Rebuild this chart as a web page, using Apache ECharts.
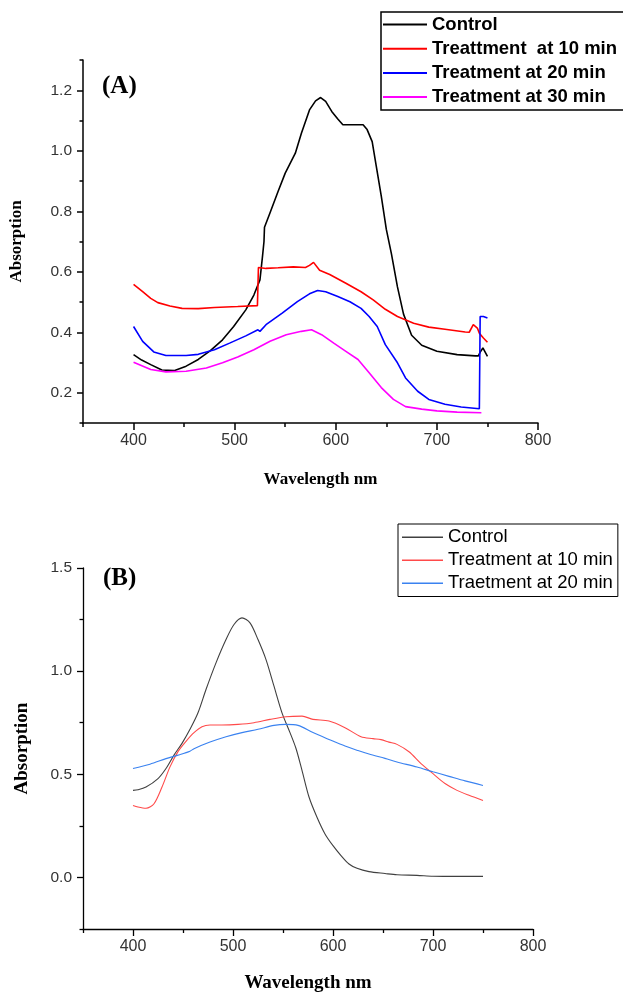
<!DOCTYPE html>
<html>
<head>
<meta charset="utf-8">
<script src="https://cdn.jsdelivr.net/npm/echarts@6.0.0/dist/echarts.min.js"></script>
<style>
html,body{margin:0;padding:0;background:#fff;}
#chart{width:623px;height:995px;}
</style>
</head>
<body>
<div id="chart"></div>
<script>
// ---------- Tick labels ----------
const xMajorTicks = [400, 500, 600, 700, 800];
const xMinorTicks = [350, 450, 550, 650, 750];
const yMajorA = [0.2, 0.4, 0.6, 0.8, 1.0, 1.2];
const yMinorA = [0.1, 0.3, 0.5, 0.7, 0.9, 1.1, 1.3];
const yMajorB = [0.0, 0.5, 1.0, 1.5];
const yMinorB = [-0.25, 0.25, 0.75, 1.25];

// ---------- Chart A data ----------
const namesA = ['Control', 'Treattment  at 10 min', 'Treatment at 20 min', 'Treatment at 30 min'];
const aControlX = [400, 408, 417, 428, 440, 452, 464, 476, 488, 499, 511, 519, 525, 527.5, 529, 529.5, 535, 543, 550, 560, 566, 574, 580, 585, 590, 596, 602, 607, 617, 627, 631, 636, 640, 645, 650, 655, 661, 667, 675, 685, 700, 720, 738, 741, 743, 745.5, 750];
const aControlY = [0.326, 0.308, 0.293, 0.275, 0.273, 0.288, 0.310, 0.339, 0.375, 0.419, 0.474, 0.523, 0.573, 0.650, 0.700, 0.747, 0.795, 0.866, 0.926, 0.992, 1.058, 1.135, 1.165, 1.176, 1.163, 1.130, 1.105, 1.086, 1.086, 1.086, 1.070, 1.030, 0.950, 0.850, 0.740, 0.660, 0.550, 0.460, 0.390, 0.357, 0.337, 0.326, 0.322, 0.322, 0.335, 0.348, 0.320];
const a10X = [400, 409, 417, 424, 436, 448, 464, 480, 503, 522.5, 523.5, 531, 543, 558, 570, 574, 578, 584, 594, 610, 625, 637, 649, 661, 677, 692, 708, 728, 732, 736, 740, 742, 746, 750];
const a10Y = [0.558, 0.534, 0.512, 0.498, 0.487, 0.479, 0.478, 0.482, 0.485, 0.488, 0.614, 0.611, 0.613, 0.616, 0.614, 0.621, 0.631, 0.605, 0.591, 0.562, 0.534, 0.507, 0.476, 0.452, 0.430, 0.417, 0.410, 0.401, 0.400, 0.425, 0.414, 0.397, 0.381, 0.367];
const a20X = [400, 409, 420, 432, 452, 464, 480, 495, 511, 523, 525, 531, 547, 562, 574, 582, 590, 602, 614, 625, 633, 641, 649, 661, 669, 681, 692, 708, 724, 742, 742.8, 746, 750];
const a20Y = [0.419, 0.370, 0.335, 0.323, 0.323, 0.327, 0.342, 0.364, 0.388, 0.408, 0.403, 0.425, 0.463, 0.501, 0.527, 0.538, 0.534, 0.518, 0.501, 0.479, 0.452, 0.419, 0.359, 0.299, 0.249, 0.205, 0.178, 0.162, 0.153, 0.147, 0.452, 0.452, 0.447];
const a30X = [400, 417, 432, 452, 472, 488, 503, 519, 535, 551, 566, 576, 586, 598, 610, 622, 633, 645, 657, 669, 685, 700, 720, 744];
const a30Y = [0.301, 0.277, 0.269, 0.271, 0.282, 0.299, 0.318, 0.342, 0.370, 0.392, 0.403, 0.408, 0.392, 0.364, 0.337, 0.310, 0.266, 0.217, 0.178, 0.154, 0.146, 0.140, 0.136, 0.134];

// ---------- Chart B data ----------
const namesB = ['Control', 'Treatment at 10 min', 'Traetment at 20 min'];
const bControlX = [400, 405, 413, 425, 433, 441, 449, 457, 465, 473, 483, 493, 501, 509, 517, 525, 533, 541, 549, 557, 563, 569, 576, 584, 592, 600, 608, 616, 624, 636, 652, 664, 684, 700, 724, 750];
const bControlY = [0.422, 0.425, 0.438, 0.479, 0.528, 0.593, 0.650, 0.718, 0.798, 0.911, 1.040, 1.153, 1.226, 1.258, 1.234, 1.153, 1.056, 0.927, 0.798, 0.702, 0.625, 0.519, 0.390, 0.292, 0.211, 0.154, 0.106, 0.065, 0.044, 0.028, 0.019, 0.013, 0.010, 0.006, 0.005, 0.005];
const b10X = [400, 405, 413, 421, 429, 437, 445, 453, 461, 469, 477, 489, 505, 521, 537, 553, 569, 580, 596, 612, 628, 640, 648, 656, 664, 676, 688, 700, 712, 724, 736, 750];
const b10Y = [0.349, 0.341, 0.335, 0.357, 0.438, 0.536, 0.610, 0.660, 0.702, 0.731, 0.739, 0.739, 0.742, 0.750, 0.766, 0.779, 0.782, 0.766, 0.758, 0.726, 0.682, 0.673, 0.668, 0.656, 0.645, 0.609, 0.552, 0.503, 0.455, 0.422, 0.398, 0.373];
const b20X = [400, 417, 433, 445, 457, 461, 477, 493, 509, 525, 541, 553, 565, 580, 596, 612, 625, 636, 652, 664, 684, 700, 716, 732, 750];
const b20Y = [0.528, 0.549, 0.576, 0.593, 0.612, 0.624, 0.656, 0.682, 0.702, 0.718, 0.737, 0.742, 0.737, 0.702, 0.669, 0.637, 0.615, 0.598, 0.577, 0.560, 0.535, 0.512, 0.490, 0.468, 0.446];

function zip(xs, ys) { return xs.map((x, i) => [x, ys[i]]); }

const SANS = '"Liberation Sans", Arial, sans-serif';
const SERIF = '"Liberation Serif", "Times New Roman", serif';

function mainX(grid, name, gap, lw, padLeft) {
  return {
    gridIndex: grid, type: 'value', min: 350, max: 800, position: 'bottom',
    axisLine: { show: true, onZero: false, lineStyle: { color: '#000', width: lw } },
    axisTick: { show: true, customValues: xMajorTicks, length: 7, lineStyle: { color: '#000', width: lw } },
    axisLabel: { customValues: xMajorTicks, margin: 10, fontSize: 16, color: '#333', fontFamily: SANS },
    splitLine: { show: false },
    name: name, nameLocation: 'middle', nameGap: gap,
    nameTextStyle: { fontFamily: SERIF, fontWeight: 'bold', fontSize: grid === 0 ? 17 : 19, color: '#000', padding: [0, 0, 0, padLeft] }
  };
}
function minorX(grid, lw) {
  return {
    gridIndex: grid, type: 'value', min: 350, max: 800, position: 'bottom',
    axisLine: { show: false, onZero: false },
    axisTick: { show: true, customValues: xMinorTicks, length: 4, lineStyle: { color: '#000', width: lw } },
    axisLabel: { show: false }, splitLine: { show: false }
  };
}
function mainY(grid, min, max, majors, name, gap, lw, fs) {
  return {
    gridIndex: grid, type: 'value', min: min, max: max, position: 'left',
    axisLine: { show: true, onZero: false, lineStyle: { color: '#000', width: lw } },
    axisTick: { show: true, customValues: majors, length: 6, lineStyle: { color: '#000', width: lw } },
    axisLabel: { customValues: majors, margin: 11, fontSize: 15.5, color: '#333', fontFamily: SANS,
      formatter: v => Number(v).toFixed(1) },
    splitLine: { show: false },
    name: name, nameLocation: 'middle', nameGap: gap,
    nameTextStyle: { fontFamily: SERIF, fontWeight: 'bold', fontSize: fs, color: '#000' }
  };
}
function minorY(grid, min, max, minors, lw) {
  return {
    gridIndex: grid, type: 'value', min: min, max: max, position: 'left',
    axisLine: { show: false, onZero: false },
    axisTick: { show: true, customValues: minors, length: 3.5, lineStyle: { color: '#000', width: lw } },
    axisLabel: { show: false }, splitLine: { show: false }
  };
}
function line(name, xi, yi, data, color, width, smooth) {
  return {
    name: name, type: 'line', xAxisIndex: xi, yAxisIndex: yi, data: data,
    symbol: 'none', showSymbol: false, smooth: smooth, clip: true,
    lineStyle: { color: color, width: width }, itemStyle: { color: color },
    emphasis: { disabled: true }
  };
}

const chart = echarts.init(document.getElementById('chart'), null, { renderer: 'canvas' });
chart.setOption({
  animation: false,
  backgroundColor: '#fff',
  grid: [
    { left: 83, top: 60, width: 455, height: 363 },
    { left: 83, top: 568, width: 450, height: 361 }
  ],
  xAxis: [
    mainX(0, 'Wavelength nm', 48, 1.5, 20),
    minorX(0, 1.5),
    mainX(1, 'Wavelength nm', 45, 1.3, 0),
    minorX(1, 1.3)
  ],
  yAxis: [
    mainY(0, 0.1, 1.3, yMajorA, 'Absorption', 58, 1.5, 17),
    minorY(0, 0.1, 1.3, yMinorA, 1.5),
    mainY(1, -0.25, 1.5, yMajorB, 'Absorption', 51, 1.3, 19),
    minorY(1, -0.25, 1.5, yMinorB, 1.3)
  ],
  legend: [
    {
      data: namesA, orient: 'vertical', left: 381, top: 12,
      icon: 'rect', itemWidth: 44, itemHeight: 2, itemGap: 5.2,
      padding: [3, 60, 3.5, 2],
      borderColor: '#000', borderWidth: 1.5, backgroundColor: '#fff',
      selectedMode: false,
      textStyle: { fontFamily: SANS, fontWeight: 'bold', fontSize: 18.5, color: '#000' }
    },
    {
      data: namesB.map(n => n + ' (B)'), orient: 'vertical', left: 398, top: 524,
      icon: 'rect', itemWidth: 41, itemHeight: 1.3, itemGap: 4,
      padding: [3.75, 5, 3.75, 4],
      borderColor: '#000', borderWidth: 1, backgroundColor: '#fff',
      selectedMode: false,
      formatter: n => n.replace(' (B)', ''),
      textStyle: { fontFamily: SANS, fontSize: 18.5, color: '#000' }
    }
  ],
  graphic: [
    { type: 'text', left: 102, top: 74, style: { text: '(A)', font: 'bold 25px ' + SERIF, fill: '#000' } },
    { type: 'text', left: 103, top: 566, style: { text: '(B)', font: 'bold 25px ' + SERIF, fill: '#000' } }
  ],
  series: [
    line(namesA[0], 0, 0, zip(aControlX, aControlY), '#000000', 1.6, false),
    line(namesA[1], 0, 0, zip(a10X, a10Y), '#ff0000', 1.6, false),
    line(namesA[2], 0, 0, zip(a20X, a20Y), '#0000ff', 1.6, false),
    line(namesA[3], 0, 0, zip(a30X, a30Y), '#ff00ff', 1.6, false),
    line(namesB[0] + ' (B)', 2, 2, zip(bControlX, bControlY), '#404040', 1.1, 0.3),
    line(namesB[1] + ' (B)', 2, 2, zip(b10X, b10Y), '#ff4a4a', 1.1, 0.3),
    line(namesB[2] + ' (B)', 2, 2, zip(b20X, b20Y), '#3a82f0', 1.1, 0.3)
  ]
});
</script>
</body>
</html>
